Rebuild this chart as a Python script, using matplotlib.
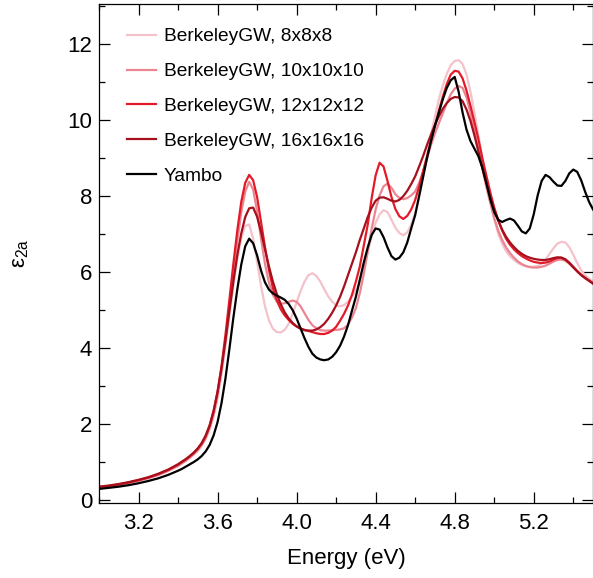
import numpy as np
import matplotlib
matplotlib.use("Agg")
import matplotlib.pyplot as plt
from matplotlib.ticker import MultipleLocator

plt.rcParams['font.family'] = ['Liberation Sans', 'DejaVu Sans']
plt.rcParams['mathtext.default'] = 'regular'

# energy grid (eV)
energy = [3.00, 3.05, 3.10, 3.15, 3.20, 3.25, 3.30, 3.35, 3.40,
          3.42, 3.44, 3.46, 3.48, 3.50,
          3.52, 3.54, 3.56, 3.58, 3.60, 3.62, 3.64, 3.66, 3.68, 3.70,
          3.72, 3.74, 3.76, 3.78, 3.80, 3.82, 3.84, 3.86, 3.88, 3.90,
          3.92, 3.94, 3.96, 3.98, 4.00, 4.02, 4.04, 4.06, 4.08, 4.10,
          4.12, 4.14, 4.16, 4.18, 4.20, 4.22, 4.24, 4.26, 4.28, 4.30,
          4.32, 4.34, 4.36, 4.38, 4.40, 4.42, 4.44, 4.46, 4.48, 4.50,
          4.52, 4.54, 4.56, 4.58, 4.60, 4.62, 4.64, 4.66, 4.68, 4.70,
          4.72, 4.74, 4.76, 4.78, 4.80, 4.82, 4.84, 4.86, 4.88, 4.90,
          4.92, 4.94, 4.96, 4.98, 5.00, 5.02, 5.04, 5.06, 5.08, 5.10,
          5.12, 5.14, 5.16, 5.18, 5.20, 5.22, 5.24, 5.26, 5.28, 5.30,
          5.32, 5.34, 5.36, 5.38, 5.40, 5.42, 5.44, 5.46, 5.48, 5.50]

bgw_8 = [0.32, 0.35, 0.39, 0.44, 0.50, 0.57, 0.65, 0.76, 0.89,
         0.96, 1.03, 1.11, 1.20, 1.30,
         1.43, 1.61, 1.86, 2.20, 2.68, 3.30, 4.05, 4.85, 5.65, 6.35,
         6.90, 7.22, 7.25, 6.88, 6.28, 5.64, 5.10, 4.73, 4.51, 4.42,
         4.41, 4.48, 4.64, 4.90, 5.20, 5.50, 5.75, 5.92, 5.97, 5.90,
         5.75, 5.55, 5.36, 5.22, 5.13, 5.10, 5.13, 5.22, 5.36, 5.52,
         5.72, 6.08, 6.52, 6.95, 7.30, 7.52, 7.63, 7.58, 7.38, 7.17,
         7.03, 6.97, 7.05, 7.25, 7.55, 7.98, 8.50, 9.05, 9.60, 10.10,
         10.55, 10.92, 11.22, 11.45, 11.56, 11.58, 11.48, 11.20, 10.75, 10.20,
         9.60, 9.00, 8.42, 7.88, 7.40, 7.02, 6.75, 6.55, 6.42, 6.32,
         6.24, 6.19, 6.16, 6.14, 6.14, 6.16, 6.22, 6.33, 6.48, 6.63,
         6.75, 6.80, 6.78, 6.66, 6.46, 6.24, 6.05, 5.92, 5.83, 5.76]

bgw_10 = [0.33, 0.36, 0.40, 0.45, 0.51, 0.58, 0.66, 0.77, 0.90,
          0.97, 1.04, 1.12, 1.21, 1.31,
          1.45, 1.63, 1.89, 2.25, 2.75, 3.40, 4.18, 5.05, 5.95, 6.82,
          7.58, 8.12, 8.38, 8.18, 7.60, 6.88, 6.22, 5.72, 5.40, 5.23,
          5.17, 5.18, 5.22, 5.25, 5.22, 5.10, 4.92, 4.74, 4.60, 4.52,
          4.47, 4.46, 4.46, 4.47, 4.48, 4.49, 4.52, 4.62, 4.80, 5.05,
          5.45, 5.95, 6.55, 7.15, 7.65, 8.02, 8.26, 8.33, 8.22, 8.05,
          7.95, 7.92, 7.95, 8.02, 8.12, 8.35, 8.65, 9.00, 9.35, 9.65,
          9.92, 10.18, 10.45, 10.68, 10.83, 10.90, 10.85, 10.60, 10.20, 9.72,
          9.22, 8.72, 8.25, 7.82, 7.42, 7.10, 6.85, 6.65, 6.50, 6.38,
          6.28, 6.21, 6.16, 6.13, 6.12, 6.12, 6.14, 6.17, 6.22, 6.28,
          6.32, 6.33, 6.30, 6.22, 6.12, 6.02, 5.93, 5.85, 5.78, 5.71]

bgw_12 = [0.34, 0.37, 0.41, 0.46, 0.52, 0.59, 0.68, 0.79, 0.93,
          1.00, 1.07, 1.15, 1.24, 1.35,
          1.49, 1.68, 1.95, 2.33, 2.85, 3.52, 4.35, 5.28, 6.22, 7.10,
          7.85, 8.35, 8.56, 8.42, 7.98, 7.32, 6.66, 6.06, 5.58, 5.25,
          5.02, 4.86, 4.74, 4.64, 4.57, 4.52, 4.48, 4.45, 4.42, 4.39,
          4.37, 4.37, 4.40, 4.46, 4.56, 4.72, 4.90, 5.12, 5.40, 5.75,
          6.15, 6.70, 7.25, 7.95, 8.55, 8.88, 8.78, 8.40, 7.98, 7.66,
          7.47, 7.40, 7.48, 7.65, 7.90, 8.25, 8.65, 9.05, 9.45, 9.85,
          10.25, 10.62, 10.95, 11.20, 11.30, 11.28, 11.10, 10.78, 10.38, 9.95,
          9.50, 9.00, 8.55, 8.10, 7.70, 7.38, 7.10, 6.88, 6.72, 6.60,
          6.50, 6.42, 6.36, 6.31, 6.27, 6.25, 6.24, 6.25, 6.28, 6.33,
          6.37, 6.38, 6.34, 6.25, 6.14, 6.03, 5.93, 5.85, 5.78, 5.70]

bgw_16 = [0.35, 0.38, 0.42, 0.47, 0.53, 0.60, 0.69, 0.80, 0.94,
          1.01, 1.08, 1.16, 1.25, 1.36,
          1.50, 1.70, 1.97, 2.35, 2.85, 3.48, 4.20, 4.98, 5.75, 6.45,
          7.02, 7.45, 7.68, 7.70, 7.46, 7.06, 6.60, 6.15, 5.75, 5.42,
          5.15, 4.94, 4.78, 4.66, 4.57, 4.51, 4.47, 4.46, 4.46, 4.49,
          4.55, 4.64, 4.77, 4.93, 5.12, 5.35, 5.62, 5.92, 6.22, 6.52,
          6.85, 7.15, 7.45, 7.70, 7.88, 7.96, 7.97, 7.93, 7.88, 7.86,
          7.90, 8.00, 8.14, 8.32, 8.52, 8.78, 9.05, 9.35, 9.62, 9.88,
          10.10, 10.30, 10.45, 10.56, 10.61, 10.60, 10.50, 10.28, 9.98, 9.60,
          9.18, 8.75, 8.35, 7.98, 7.65, 7.36, 7.12, 6.93, 6.78, 6.66,
          6.56, 6.48, 6.42, 6.38, 6.35, 6.33, 6.32, 6.32, 6.34, 6.37,
          6.39, 6.38, 6.33, 6.24, 6.13, 6.02, 5.92, 5.84, 5.77, 5.70]

yambo = [0.29, 0.32, 0.35, 0.39, 0.44, 0.50, 0.57, 0.66, 0.77,
         0.82, 0.88, 0.94, 1.00, 1.07,
         1.16, 1.28, 1.45, 1.70, 2.05, 2.55, 3.20, 3.98, 4.80, 5.55,
         6.20, 6.68, 6.88, 6.76, 6.44, 6.04, 5.73, 5.54, 5.44, 5.38,
         5.33, 5.27, 5.16, 5.00, 4.78, 4.52, 4.26, 4.03, 3.85, 3.75,
         3.70, 3.68, 3.70, 3.77, 3.89, 4.06, 4.30, 4.60, 4.98, 5.35,
         5.80, 6.25, 6.65, 6.98, 7.15, 7.12, 6.92, 6.65, 6.42, 6.33,
         6.38, 6.52, 6.78, 7.15, 7.50, 8.00, 8.50, 9.00, 9.45, 9.85,
         10.20, 10.55, 10.85, 11.05, 11.14, 10.75, 10.20, 9.75, 9.45, 9.25,
         9.05, 8.75, 8.35, 7.92, 7.58, 7.38, 7.32, 7.37, 7.41, 7.36,
         7.22, 7.07, 7.02, 7.15, 7.52, 8.02, 8.40, 8.56, 8.50, 8.38,
         8.28, 8.27, 8.40, 8.60, 8.70, 8.64, 8.42, 8.12, 7.85, 7.65]

series = [
    (bgw_8, 'BerkeleyGW, 8x8x8', '#f4c2ca'),
    (bgw_10, 'BerkeleyGW, 10x10x10', '#eb8592'),
    (bgw_12, 'BerkeleyGW, 12x12x12', '#e31b28'),
    (bgw_16, 'BerkeleyGW, 16x16x16', '#a6101d'),
    (yambo, 'Yambo', 'black'),
]

fig = plt.figure(figsize=(5.93, 5.78), dpi=100)
ax = fig.add_axes([99 / 593, 75 / 578, 494 / 593, 499 / 578])

for y, label, color in series:
    ax.plot(energy, y, color=color, lw=1.6, label=label)

ax.set_xlim(3.0, 5.5)
ax.set_ylim(-0.08, 13.06)
ax.xaxis.set_major_locator(MultipleLocator(0.4))
ax.xaxis.set_minor_locator(MultipleLocator(0.2))
ax.yaxis.set_major_locator(MultipleLocator(2))
ax.yaxis.set_minor_locator(MultipleLocator(1))
ax.set_xticks([3.2, 3.6, 4.0, 4.4, 4.8, 5.2])
ax.tick_params(which='both', direction='in', top=True, right=True,
               labelsize=16, width=0.9)
ax.tick_params(which='major', length=8)
ax.tick_params(which='minor', length=4)
ax.tick_params(axis='y', pad=5)
ax.tick_params(axis='x', pad=7)
for s in ax.spines.values():
    s.set_linewidth(0.9)

ax.set_xlabel('Energy (eV)', fontsize=16, labelpad=10)
ax.set_ylabel('$ε_{2a}$', fontsize=16, labelpad=26)

ax.legend(loc='upper left', bbox_to_anchor=(0.057, 0.952), frameon=False,
          fontsize=13.8, borderpad=0, borderaxespad=0, handlelength=1.5,
          handletextpad=0.42, labelspacing=0.91)

fig.savefig('out.png', dpi=100)
